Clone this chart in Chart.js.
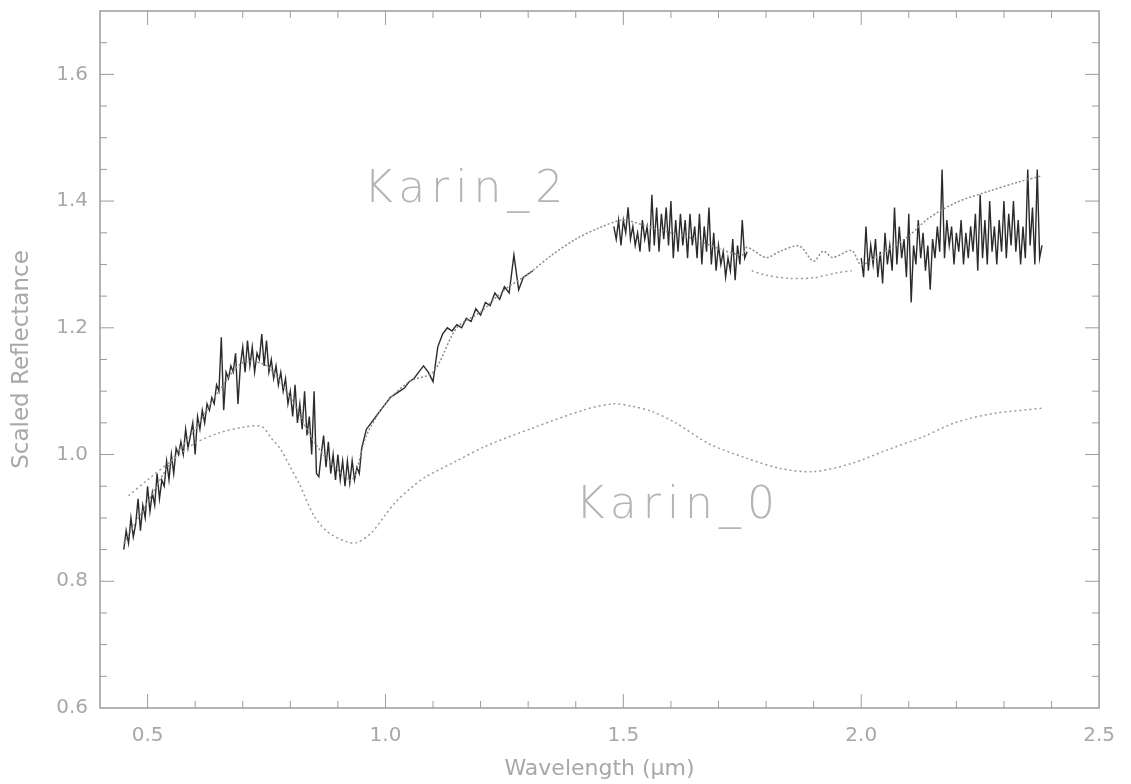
<!DOCTYPE html>
<html>
<head>
<meta charset="utf-8">
<script src="https://cdn.jsdelivr.net/npm/chart.js@4.4.1/dist/chart.umd.min.js"></script>
<style>
  html, body { margin: 0; padding: 0; background: #fff; }
  #wrap { width: 1131px; height: 784px; }
</style>
</head>
<body>
<div id="wrap"><canvas id="spectra" width="1131" height="784"></canvas></div>
<script>
// Karin_2 measured spectrum (null = no data)
const k2Wave = [
  0.450, 0.455, 0.460, 0.465, 0.470, 0.475, 0.480, 0.485, 0.490, 0.495, 0.500, 0.505, 0.510, 0.515, 0.520, 0.525,
  0.530, 0.535, 0.540, 0.545, 0.550, 0.555, 0.560, 0.565, 0.570, 0.575, 0.580, 0.585, 0.590, 0.595, 0.600, 0.605,
  0.610, 0.615, 0.620, 0.625, 0.630, 0.635, 0.640, 0.645, 0.650, 0.655, 0.660, 0.665, 0.670, 0.675, 0.680, 0.685,
  0.690, 0.695, 0.700, 0.705, 0.710, 0.715, 0.720, 0.725, 0.730, 0.735, 0.740, 0.745, 0.750, 0.755, 0.760, 0.765,
  0.770, 0.775, 0.780, 0.785, 0.790, 0.795, 0.800, 0.805, 0.810, 0.815, 0.820, 0.825, 0.830, 0.835, 0.840, 0.845,
  0.850, 0.855, 0.860, 0.865, 0.870, 0.875, 0.880, 0.885, 0.890, 0.895, 0.900, 0.905, 0.910, 0.915, 0.920, 0.925,
  0.930, 0.935, 0.940, 0.945, 0.950,
  0.96, 0.97, 0.98, 0.99, 1.00, 1.01, 1.02, 1.03, 1.04, 1.05, 1.06, 1.07, 1.08, 1.09, 1.10, 1.11,
  1.12, 1.13, 1.14, 1.15, 1.16, 1.17, 1.18, 1.19, 1.20, 1.21, 1.22, 1.23, 1.24, 1.25, 1.26, 1.27,
  1.28, 1.29, 1.30, 1.31,
  1.40,
  1.480, 1.485, 1.490, 1.495, 1.500, 1.505, 1.510, 1.515, 1.520, 1.525, 1.530, 1.535, 1.540, 1.545, 1.550, 1.555,
  1.560, 1.565, 1.570, 1.575, 1.580, 1.585, 1.590, 1.595, 1.600, 1.605, 1.610, 1.615, 1.620, 1.625, 1.630, 1.635,
  1.640, 1.645, 1.650, 1.655, 1.660, 1.665, 1.670, 1.675, 1.680, 1.685, 1.690, 1.695, 1.700, 1.705, 1.710, 1.715,
  1.720, 1.725, 1.730, 1.735, 1.740, 1.745, 1.750, 1.755, 1.760,
  1.88,
  2.000, 2.005, 2.010, 2.015, 2.020, 2.025, 2.030, 2.035, 2.040, 2.045, 2.050, 2.055, 2.060, 2.065, 2.070, 2.075,
  2.080, 2.085, 2.090, 2.095, 2.100, 2.105, 2.110, 2.115, 2.120, 2.125, 2.130, 2.135, 2.140, 2.145, 2.150, 2.155,
  2.160, 2.165, 2.170, 2.175, 2.180, 2.185, 2.190, 2.195, 2.200, 2.205, 2.210, 2.215, 2.220, 2.225, 2.230, 2.235,
  2.240, 2.245, 2.250, 2.255, 2.260, 2.265, 2.270, 2.275, 2.280, 2.285, 2.290, 2.295, 2.300, 2.305, 2.310, 2.315,
  2.320, 2.325, 2.330, 2.335, 2.340, 2.345, 2.350, 2.355, 2.360, 2.365, 2.370, 2.375, 2.380
];
const k2Refl = [
  0.85, 0.88, 0.86, 0.90, 0.87, 0.89, 0.93, 0.88, 0.92, 0.90, 0.95, 0.91, 0.94, 0.92, 0.97, 0.93,
  0.96, 0.95, 0.99, 0.96, 1.00, 0.97, 1.01, 1.00, 1.02, 1.00, 1.04, 1.01, 1.03, 1.05, 1.00, 1.06,
  1.04, 1.07, 1.05, 1.08, 1.07, 1.09, 1.08, 1.11, 1.10, 1.185, 1.07, 1.13, 1.12, 1.14, 1.13, 1.16,
  1.08, 1.14, 1.17, 1.13, 1.18, 1.14, 1.17, 1.13, 1.16, 1.15, 1.19, 1.14, 1.18, 1.13, 1.15, 1.12,
  1.14, 1.11, 1.13, 1.10, 1.12, 1.08, 1.10, 1.06, 1.11, 1.05, 1.08, 1.04, 1.10, 1.03, 1.06, 1.00,
  1.10, 0.97, 0.965, 1.00, 1.03, 0.98, 1.02, 0.97, 1.00, 0.96, 1.00, 0.96, 0.99, 0.95, 0.99, 0.955,
  0.99, 0.96, 0.98, 0.97, 1.01,
  1.04, 1.05, 1.06, 1.07, 1.08, 1.09, 1.095, 1.10, 1.105, 1.115, 1.12, 1.13, 1.14, 1.13, 1.115, 1.17,
  1.19, 1.20, 1.195, 1.205, 1.20, 1.215, 1.21, 1.23, 1.22, 1.24, 1.235, 1.255, 1.245, 1.265, 1.255, 1.315,
  1.26, 1.28, 1.285, 1.29,
  null,
  1.36, 1.34, 1.37, 1.33, 1.37, 1.35, 1.39, 1.34, 1.36, 1.33, 1.35, 1.32, 1.37, 1.34, 1.36, 1.32,
  1.41, 1.33, 1.39, 1.32, 1.38, 1.34, 1.39, 1.33, 1.40, 1.31, 1.37, 1.32, 1.38, 1.33, 1.37, 1.31,
  1.38, 1.33, 1.36, 1.31, 1.38, 1.30, 1.36, 1.32, 1.39, 1.30, 1.35, 1.29, 1.33, 1.30, 1.32, 1.28,
  1.31, 1.29, 1.34, 1.275, 1.33, 1.30, 1.37, 1.31, 1.32,
  null,
  1.31, 1.28, 1.36, 1.29, 1.33, 1.30, 1.34, 1.28, 1.32, 1.27, 1.35, 1.30, 1.33, 1.29, 1.39, 1.30,
  1.36, 1.31, 1.34, 1.28, 1.38, 1.24, 1.33, 1.30, 1.37, 1.31, 1.35, 1.29, 1.33, 1.26, 1.34, 1.31,
  1.36, 1.32, 1.45, 1.31, 1.37, 1.33, 1.36, 1.30, 1.35, 1.32, 1.37, 1.30, 1.35, 1.31, 1.36, 1.32,
  1.38, 1.29, 1.41, 1.31, 1.37, 1.30, 1.40, 1.32, 1.36, 1.30, 1.37, 1.32, 1.40, 1.31, 1.38, 1.33,
  1.40, 1.32, 1.37, 1.30, 1.36, 1.31, 1.45, 1.33, 1.39, 1.30, 1.45, 1.31, 1.33
];

// Karin_2 smooth (dotted) curve
const k2FitWave = [0.45, 0.50, 0.55, 0.60, 0.65, 0.70, 0.75, 0.80, 0.85, 0.90, 0.93, 0.96, 1.00, 1.05, 1.10,
  1.15, 1.20, 1.25, 1.30, 1.35, 1.40, 1.45, 1.50, 1.55, 1.60, 1.65, 1.70, 1.75, 1.76, 1.80, 1.83,
  1.87, 1.90, 1.92, 1.94, 1.98, 2.00, 2.05, 2.10, 2.14, 2.20, 2.27, 2.33, 2.38];
const k2FitRefl = [0.86, 0.925, 0.99, 1.04, 1.10, 1.145, 1.14, 1.09, 1.02, 0.975, 0.96, 1.03, 1.08, 1.115, 1.13,
  1.20, 1.225, 1.26, 1.285, 1.315, 1.34, 1.358, 1.37, 1.36, 1.35, 1.34, 1.325, 1.315, 1.327, 1.311, 1.321,
  1.329, 1.305, 1.321, 1.311, 1.322, 1.30, 1.32, 1.345, 1.372, 1.398, 1.416, 1.43, 1.44];

// short lower dotted segment near 1.8-2.0 um
const k2LowWave = [1.77, 1.80, 1.85, 1.90, 1.95, 1.98];
const k2LowRefl = [1.29, 1.283, 1.278, 1.279, 1.287, 1.29];

// Karin_0 smooth curve
const k0Wave = [0.46, 0.50, 0.55, 0.60, 0.65, 0.70, 0.74, 0.76, 0.78, 0.80, 0.82, 0.85, 0.88, 0.92, 0.94,
  0.97, 1.00, 1.02, 1.05, 1.085, 1.15, 1.21, 1.31, 1.42, 1.48, 1.52, 1.56, 1.61, 1.68, 1.76, 1.83,
  1.90, 1.98, 2.05, 2.13, 2.20, 2.28, 2.38];
const k0Refl = [0.935, 0.96, 0.99, 1.018, 1.034, 1.043, 1.044, 1.026, 1.008, 0.98, 0.952, 0.903, 0.877, 0.862, 0.861,
  0.876, 0.905, 0.924, 0.945, 0.965, 0.99, 1.013, 1.042, 1.071, 1.08, 1.076, 1.068, 1.05, 1.017, 0.994, 0.978,
  0.973, 0.986, 1.006, 1.028, 1.051, 1.065, 1.073];

const xTicks = [0.5, 1.0, 1.5, 2.0, 2.5];
const yTicks = [0.6, 0.8, 1.0, 1.2, 1.4, 1.6];

const labelText = ['Karin_2', 'Karin_0'];
const labelAt = [[0.955, 1.398], [1.40, 0.90]];

const pts = (xs, ys) => xs.map((v, i) => ({ x: v, y: ys[i] }));
const textGray = '#a8a8a8';
const fontFam = '"DejaVu Sans", sans-serif';

// frame with inward ticks on all four sides + curve names
const framePlugin = {
  id: 'frame',
  afterDatasetsDraw(chart) {
    const { ctx, chartArea: a, scales: { x, y } } = chart;
    ctx.save();
    ctx.strokeStyle = '#9c9c9c';
    ctx.lineWidth = 1.5;
    ctx.strokeRect(a.left, a.top, a.right - a.left, a.bottom - a.top);
    ctx.lineWidth = 1;
    ctx.beginPath();
    for (let i = 5; i <= 24; i++) {
      const px = x.getPixelForValue(i / 10);
      const len = i % 5 === 0 ? 14 : 7;
      ctx.moveTo(px, a.bottom); ctx.lineTo(px, a.bottom - len);
      ctx.moveTo(px, a.top); ctx.lineTo(px, a.top + len);
    }
    for (let i = 13; i <= 33; i++) {
      const py = y.getPixelForValue(i / 20);
      const len = i % 4 === 0 ? 14 : 7;
      ctx.moveTo(a.left, py); ctx.lineTo(a.left + len, py);
      ctx.moveTo(a.right, py); ctx.lineTo(a.right - len, py);
    }
    ctx.stroke();

    ctx.fillStyle = '#b4b4b4';
    ctx.font = '300 44px ' + fontFam;
    ctx.textBaseline = 'alphabetic';
    ctx.textAlign = 'left';
    if ('letterSpacing' in ctx) ctx.letterSpacing = '6px';
    labelText.forEach((t, i) => {
      ctx.fillText(t, x.getPixelForValue(labelAt[i][0]), y.getPixelForValue(labelAt[i][1]));
    });
    ctx.restore();
  }
};

new Chart(document.getElementById('spectra'), {
  type: 'line',
  data: {
    datasets: [
      {
        label: 'Karin_0',
        data: pts(k0Wave, k0Refl),
        borderColor: '#9a9a9a',
        borderWidth: 1.5,
        borderDash: [2, 3],
        pointRadius: 0,
        tension: 0.3
      },
      {
        label: 'Karin_2 smooth',
        data: pts(k2FitWave, k2FitRefl),
        borderColor: '#8c8c8c',
        borderWidth: 1.5,
        borderDash: [2, 2],
        pointRadius: 0,
        tension: 0.3
      },
      {
        label: 'Karin_2 low',
        data: pts(k2LowWave, k2LowRefl),
        borderColor: '#9a9a9a',
        borderWidth: 1.5,
        borderDash: [2, 3],
        pointRadius: 0,
        tension: 0.3
      },
      {
        label: 'Karin_2',
        data: pts(k2Wave, k2Refl),
        borderColor: 'rgba(20,20,20,0.9)',
        borderWidth: 1.4,
        pointRadius: 0,
        tension: 0,
        spanGaps: false
      }
    ]
  },
  options: {
    responsive: false,
    animation: false,
    layout: { padding: { top: 11, right: 21, left: 0, bottom: 0 } },
    plugins: { legend: { display: false }, tooltip: { enabled: false } },
    scales: {
      x: {
        type: 'linear',
        min: 0.4,
        max: 2.5,
        afterBuildTicks: (s) => { s.ticks = xTicks.map(v => ({ value: v })); },
        afterFit: (s) => { s.height = 76; },
        grid: { display: false, drawTicks: false },
        border: { display: false },
        ticks: {
          padding: 16,
          color: textGray,
          font: { family: fontFam, size: 20 },
          callback: (v) => Number(v).toFixed(1)
        },
        title: {
          display: true,
          text: 'Wavelength (μm)',
          color: textGray,
          font: { family: fontFam, size: 22 },
          padding: { top: 0, bottom: 2 }
        }
      },
      y: {
        type: 'linear',
        min: 0.6,
        max: 1.7,
        afterBuildTicks: (s) => { s.ticks = yTicks.map(v => ({ value: v })); },
        afterFit: (s) => { s.width = 100; s.paddingTop = 0; s.paddingBottom = 0; },
        grid: { display: false, drawTicks: false },
        border: { display: false },
        ticks: {
          padding: 12,
          color: textGray,
          font: { family: fontFam, size: 20 },
          callback: (v) => Number(v).toFixed(1)
        },
        title: {
          display: true,
          text: 'Scaled Reflectance',
          color: textGray,
          font: { family: fontFam, size: 23 },
          padding: { top: 8, bottom: 0 }
        }
      }
    }
  },
  plugins: [framePlugin]
});
</script>
</body>
</html>
